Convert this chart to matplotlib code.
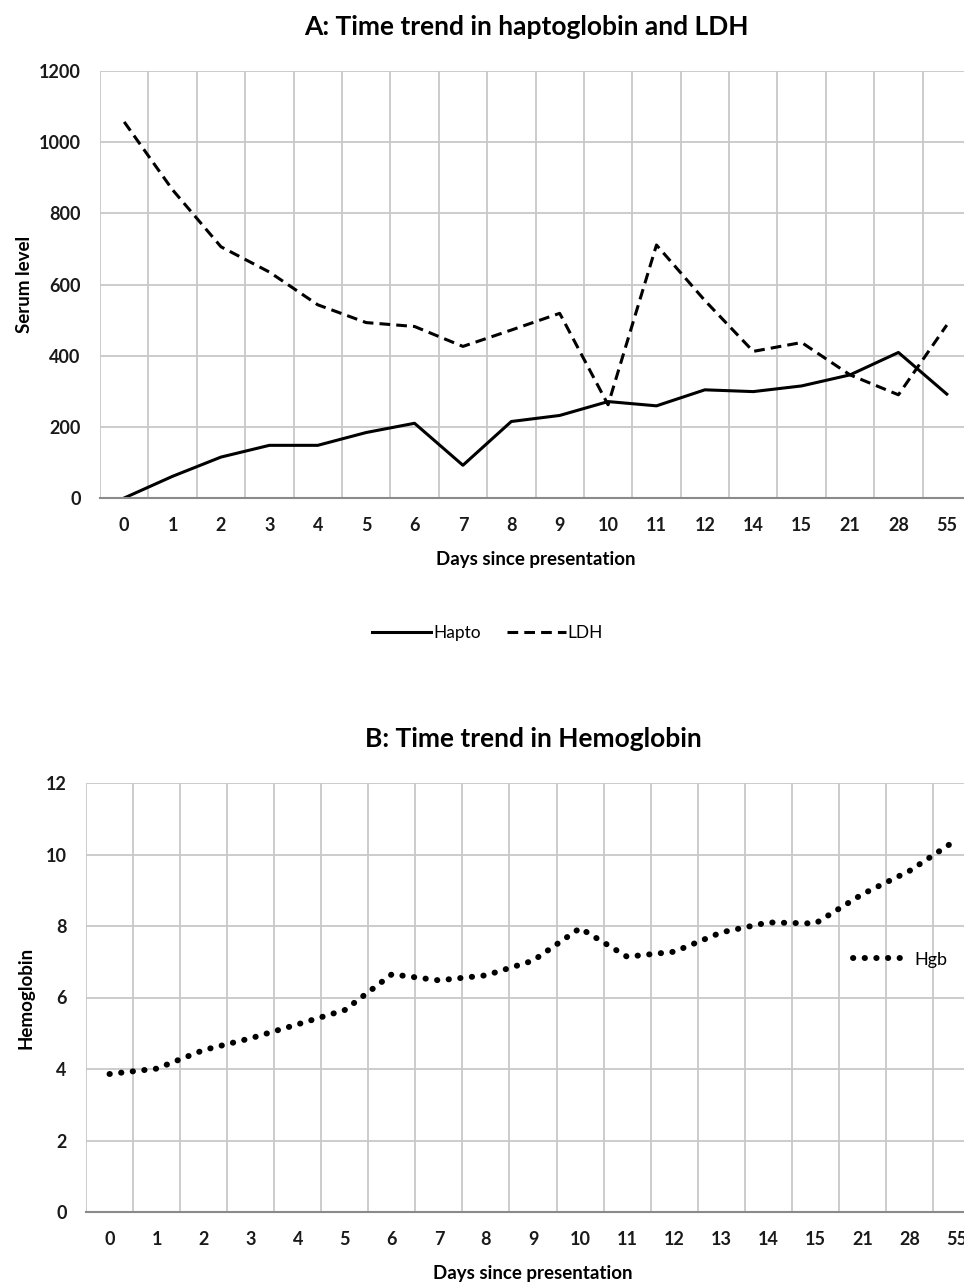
import numpy as np
import matplotlib
matplotlib.use('Agg')
import matplotlib.pyplot as plt
from matplotlib.ticker import MultipleLocator

plt.rcParams['font.family'] = ['Lato', 'DejaVu Sans']

# Panel A data
days_a = ['0', '1', '2', '3', '4', '5', '6', '7', '8', '9', '10', '11', '12', '14', '15', '21', '28', '55']
hapto = [0, 61, 115, 148, 148, 184, 210, 92, 215, 232, 271, 259, 304, 299, 315, 346, 409, 292]
ldh = [1057, 866, 706, 635, 543, 493, 482, 426, 472, 519, 262, 711, 555, 412, 437, 346, 290, 486]

# Panel B data
days_b = ['0', '1', '2', '3', '4', '5', '6', '7', '8', '9', '10', '11', '12', '13', '14', '15', '21', '28', '55']
hgb = [3.86, 4.01, 4.53, 4.86, 5.25, 5.65, 6.65, 6.48, 6.62, 7.03, 7.94, 7.14, 7.28, 7.82, 8.10, 8.07, 8.89, 9.54, 10.41]

grid_col = '#c8c8c8'
axis_col = '#8a8a8a'

fig = plt.figure(figsize=(9.64, 12.83), dpi=100)


def style_axes(ax, n, labels, ymax, ystep):
    ax.set_xlim(-0.5, n - 0.5)
    ax.set_ylim(0, ymax)
    ax.set_xticks(range(n))
    ax.set_xticklabels(labels)
    ax.set_xticks(np.arange(n + 1) - 0.5, minor=True)
    ax.yaxis.set_major_locator(MultipleLocator(ystep))
    ax.grid(True, which='minor', axis='x', color=grid_col, lw=1.3)
    ax.grid(True, which='major', axis='y', color=grid_col, lw=1.3)
    ax.set_axisbelow(True)
    for s in ['top', 'right', 'left']:
        ax.spines[s].set_visible(False)
    ax.spines['bottom'].set_color(axis_col)
    ax.spines['bottom'].set_linewidth(1.5)
    ax.tick_params(which='both', length=0)
    ax.tick_params(axis='x', pad=14, labelsize=13)
    ax.tick_params(axis='y', pad=14, labelsize=13)
    for t in ax.get_xticklabels() + ax.get_yticklabels():
        t.set_fontweight('bold')
        t.set_color('#1a1a1a')


# Panel A
ax1 = fig.add_axes([100 / 964, 1 - 498 / 1283, 871 / 964, 427 / 1283])
style_axes(ax1, len(days_a), days_a, 1200, 200)
xa = np.arange(len(days_a))
ax1.plot(xa, hapto, color='black', lw=2.2, label='Hapto')
ax1.plot(xa, ldh, color='black', lw=2.2, ls=(0, (3.5, 2.0)), label='LDH')
ax1.set_xlabel('Days since presentation', fontsize=13.5, fontweight='bold', labelpad=12)
ax1.set_ylabel('Serum level', fontsize=13.5, fontweight='bold', labelpad=4)
ax1.set_title('A: Time trend in haptoglobin and LDH', fontsize=19, fontweight='bold', pad=26, x=0.49)
ax1.legend(loc='upper center', bbox_to_anchor=(0.445, -0.262), ncol=2, frameon=False,
           fontsize=12.5, handlelength=3.4, handletextpad=0.1, columnspacing=1.5)

# Panel B
ax2 = fig.add_axes([86 / 964, 1 - 1212 / 1283, 894 / 964, 429 / 1283])
style_axes(ax2, len(days_b), days_b, 12, 2)
xb = np.arange(len(days_b))
ax2.plot(xb, hgb, color='black', lw=4.3, ls=(0, (0.05, 1.9)), dash_capstyle='round', label='Hgb')
ax2.set_xlabel('Days since presentation', fontsize=13.5, fontweight='bold', labelpad=12)
ax2.set_ylabel('Hemoglobin', fontsize=13.5, fontweight='bold', labelpad=8)
ax2.set_title('B: Time trend in Hemoglobin', fontsize=19, fontweight='bold', pad=26, x=0.5)
ax2.legend(loc='center left', bbox_to_anchor=(0.84, 0.588), frameon=False,
           fontsize=13, handlelength=3.0, handletextpad=0.4)

fig.savefig('out.png', dpi=100)
